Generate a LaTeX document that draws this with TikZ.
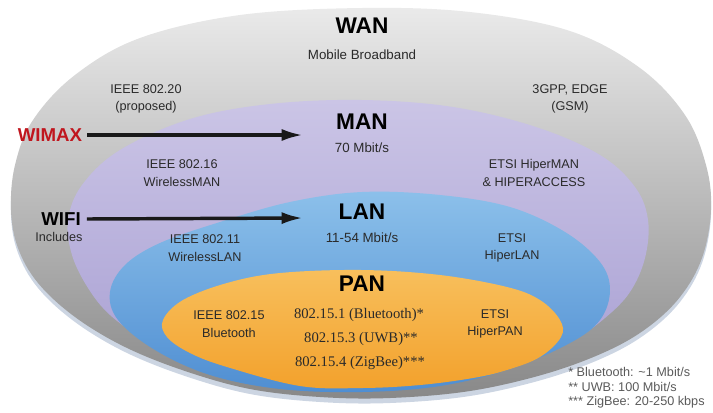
\documentclass[tikz,border=0pt]{standalone}
\usepackage{fontspec}
\setmainfont{Liberation Sans}
\newfontfamily\numfont{Liberation Serif}
\usetikzlibrary{arrows.meta}
\definecolor{wantop}{HTML}{EAEAEA}
\definecolor{wanmid}{HTML}{D0D0D0}
\definecolor{wanbot}{HTML}{888888}
\definecolor{rimlight}{HTML}{CCD5E2}
\definecolor{mantop}{HTML}{CBC5E6}
\definecolor{manbot}{HTML}{A79ED2}
\definecolor{lantop}{HTML}{8CC0EA}
\definecolor{lanbot}{HTML}{4F8ED2}
\definecolor{pantop}{HTML}{F8BF5C}
\definecolor{panbot}{HTML}{F2A12C}
\definecolor{wimaxred}{HTML}{C0161E}
\definecolor{txt}{HTML}{2A2A2A}
\definecolor{foot}{HTML}{5A5A5A}
\tikzset{
  lbl/.style={font=\fontsize{9.5}{13}\selectfont, text=txt, align=center, inner sep=0pt},
  rate/.style={font=\fontsize{10}{12}\selectfont, text=txt, inner sep=0pt},
  big/.style={font=\bfseries\fontsize{17}{20}\selectfont, text=black, inner sep=0pt},
  side/.style={font=\bfseries\fontsize{14}{16}\selectfont, inner sep=0pt},
  pan/.style={font=\numfont\fontsize{11}{13}\selectfont, text=txt, inner sep=0pt},
  fn/.style={font=\fontsize{9.5}{11}\selectfont, text=foot, anchor=west, inner sep=0pt},
  bigarrow/.style={line width=2.6pt, -{Latex[length=16pt,width=9pt]}, black!90}
}
\def\wanpath{plot[smooth cycle, tension=0.6] coordinates {(362,8) (470,12) (570,31) (640,68) (685,115) (706,165) (711,210) (702,258) (680,297) (647,328) (605,352) (545,374) (470,391) (390,398) (320,397) (250,389) (185,371) (125,347) (75,317) (38,283) (18,248) (11,210) (15,165) (33,120) (75,75) (140,38) (240,15)}}
\begin{document}
\begin{tikzpicture}[x=0.75pt,y=-0.75pt]
\useasboundingbox (0,0) rectangle (713,412);
% light rim under the dish
\path[fill=rimlight, yshift=-3.75pt] \wanpath;
% WAN
\path[top color=wantop, middle color=wanmid, bottom color=wanbot] \wanpath;
% MAN
\path[top color=mantop, bottom color=manbot]
 plot[smooth cycle, tension=0.6] coordinates {(362,100) (453,107) (536,127) (600,155) (635,187) (648,220) (645,258) (630,292) (605,318) (572,341) (520,364) (450,383) (370,391) (300,389) (235,378) (185,360) (145,340) (110,315) (88,288) (72,255) (68,220) (82,185) (120,150) (190,119) (270,104)};
% LAN
\path[top color=lantop, bottom color=lanbot]
 plot[smooth cycle, tension=0.6] coordinates {(362,192) (440,195) (510,207) (565,232) (600,262) (610,290) (600,320) (570,343) (510,369) (440,386) (362,392) (280,389) (210,375) (155,350) (118,320) (110,292) (125,265) (160,243) (220,222) (290,202)};
% PAN
\path[top color=pantop, bottom color=panbot]
 plot[smooth cycle, tension=0.6] coordinates {(362,270) (440,275) (507,287) (540,300) (560,320) (561,337) (540,357) (507,370) (473,378) (420,385) (362,388) (300,386) (227,367) (190,353) (167,337) (163,320) (183,300) (227,283) (280,273)};

% titles
\node[big] (wan) at (362,26) {WAN};
\node[rate] (wanr) at (362,55) {Mobile Broadband};
\node[big] (man) at (362,122) {MAN};
\node[rate] (manr) at (362,148) {70 Mbit/s};
\node[big] (lan) at (362,212) {LAN};
\node[rate] (lanr) at (362,238) {11-54 Mbit/s};
\node[big] (pan) at (362,284) {PAN};

% WAN labels
\node[lbl] (ieee20) at (146,99) {IEEE 802.20\\(proposed)};
\node[lbl] (gpp) at (570,99) {3GPP, EDGE\\(GSM)};
% MAN labels
\node[lbl] (ieee16) at (182,173) {IEEE 802.16\\WirelessMAN};
\node[lbl] (hipman) at (534,173) {ETSI HiperMAN\\\& HIPERACCESS};
% LAN labels
\node[lbl] (ieee11) at (205,248) {IEEE 802.11\\WirelessLAN};
\node[lbl] (hiplan) at (512,248) {ETSI\\HiperLAN};
% PAN labels
\node[lbl] (ieee15) at (229,324) {IEEE 802.15\\Bluetooth};
\node[lbl] (hippan) at (495,324) {ETSI\\HiperPAN};
\node[pan] (bt) at (359,315) {802.15.1 (Bluetooth)*};
\node[pan] (uwb) at (361,339) {802.15.3 (UWB)**};
\node[pan] (zig) at (360,363) {802.15.4 (ZigBee)***};

% side labels and arrows
\node[side, text=wimaxred] (wimax) at (50,135) {WIMAX};
\node[side, text=black] (wifi) at (61,219) {WIFI};
\node[lbl] (incl) at (59,237) {Includes};
\coordinate (manend) at (303,135);
\coordinate (lanend) at (303,218);
\draw[bigarrow] (wimax.east) ++(5,0) coordinate (wimaxs) -- (manend);
\draw[bigarrow] (wifi.east) ++(6,0) coordinate (wifis) -- (lanend);

% footnotes
\node[fn] (f1) at (568,372) {* Bluetooth: \textasciitilde 1 Mbit/s};
\node[fn] (f2) at (568,387) {** UWB: 100 Mbit/s};
\node[fn] (f3) at (568,402) {*** ZigBee: 20-250 kbps};
\end{tikzpicture}
\end{document}
